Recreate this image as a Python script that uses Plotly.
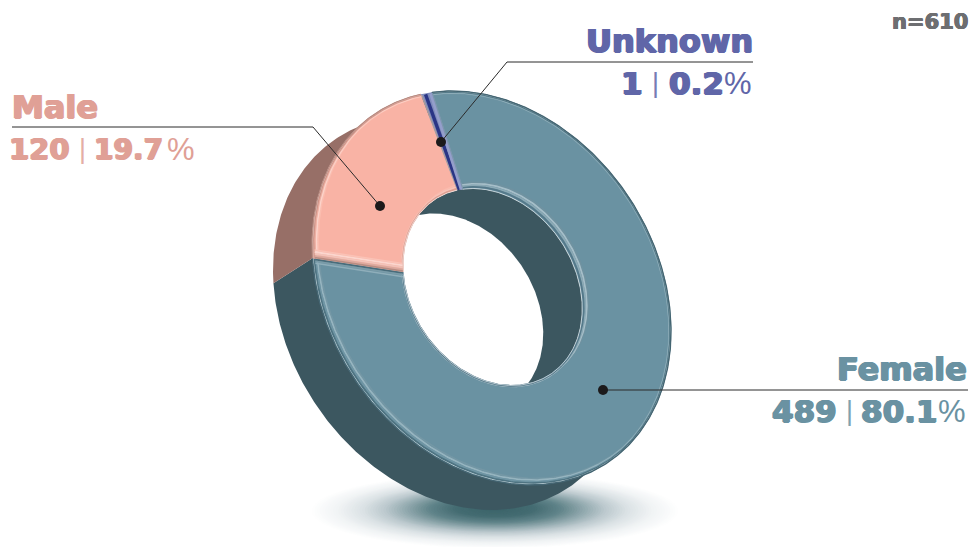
import math
import numpy as np
import plotly.graph_objects as go

# ---- data ----
labels = ["Male", "Unknown", "Female"]
counts = [120, 1, 489]
percent_text = ["19.7", "0.2", "80.1"]
sample_note = "n=610"

# ---- style ----
face = ["#F9B3A5", "#7F8BBB", "#6A92A2"]
wall = ["#976F67", "#3C5760", "#3C5760"]
text_col = ["#E0A096", "#6066A8", "#6A92A2"]
BOLD = "DejaVu Sans"
THIN = "Liberation Sans"
CX, CY, SX, SY, RHO = 491.5, 288.0, 179.5, 197.0, 0.22
EXT = (-39.0, 25.0)
HOLE = 0.50
HOLE_OFF = (1.0, -1.0)
START = 176.0
MIN_SWEEP = 3.8   # the very small slice is drawn visibly wide

total = sum(counts)
sweeps = [360 * c / total for c in counts]
sweeps[1] = max(sweeps[1], MIN_SWEEP)
sweeps[2] = 360 - sweeps[0] - sweeps[1]
edges = np.cumsum([START] + sweeps)
K = math.sqrt(1 - RHO ** 2)


def proj(u, v, shift=(0, 0)):
    u, v = np.asarray(u, float), np.asarray(v, float)
    return CX + SX * u + shift[0], CY + SY * (RHO * u + K * v) + shift[1]


def band_w(t_deg, peak, lo, hi):
    return lo + (hi - lo) * np.clip(np.cos(np.radians(t_deg - peak)), 0, 1)


def arc(r, a0, a1, shift=(0, 0), n=None):
    n = n or max(3, int(abs(a1 - a0) * 1.5))
    d = np.linspace(a0, a1, n)
    t = np.radians(d)
    rr = r(d) if callable(r) else r
    return proj(rr * np.cos(t), rr * np.sin(t), shift)


def radial(a, off, r0, r1):
    """segment parallel to the radius at angle a, from the hole rim to the outer rim"""
    t = math.radians(a)
    nx, ny = -math.sin(t), math.cos(t)
    fr = np.array([0.0, 1.0])
    ux, uy = r0 * math.cos(t) + off * nx, r0 * math.sin(t) + off * ny
    vx, vy = r1 * math.cos(t) + off * nx, r1 * math.sin(t) + off * ny
    x, y = proj(ux + (vx - ux) * fr, uy + (vy - uy) * fr)
    x = x + HOLE_OFF[0] * (1 - fr)
    y = y + HOLE_OFF[1] * (1 - fr)
    return x, y


fig = go.Figure()


def poly(x, y, color):
    fig.add_trace(go.Scatter(x=list(x), y=list(y), mode="lines", fill="toself", fillcolor=color,
                             line=dict(width=0, color=color), hoverinfo="skip", showlegend=False))


def line(x, y, color, width=1.0):
    fig.add_trace(go.Scatter(x=list(x), y=list(y), mode="lines", line=dict(width=width, color=color),
                             hoverinfo="skip", showlegend=False))


# ---- soft floor shadow: opaque rings, graded from white to dark teal ----
shade_s = [1.0, 0.85, 0.72, 0.60, 0.48, 0.36, 0.22, 0.0]
shade_c = [(255, 255, 255), (240, 243, 244), (219, 226, 229), (188, 201, 206), (143, 167, 172), (97, 132, 138),
           (68, 108, 114), (58, 98, 104)]
shapes = []
N = 70
for i in range(N):
    s = 1 - i / N
    rgb = [round(np.interp(s, shade_s[::-1], [c[k] for c in shade_c][::-1])) for k in range(3)]
    rx, ry, cy = 186 * s, 38 * s, 508 + 3 * s
    shapes.append(dict(type="circle", xref="x", yref="y", x0=495 - rx, x1=495 + rx, y0=cy - ry, y1=cy + ry,
                       fillcolor=f"rgb({rgb[0]},{rgb[1]},{rgb[2]})", line=dict(width=0), layer="below"))

# ---- extruded outer walls (Female first, Male over it) ----
for idx in [2, 0]:
    a0, a1 = edges[idx], edges[idx + 1]
    tx, ty = arc(1, a0, a1)
    bx, by = arc(1, a1, a0, EXT)
    poly(np.r_[tx, bx], np.r_[ty, by], wall[idx])

# ---- inner wall and see-through hole ----
ix, iy = arc(HOLE, 0, 360, HOLE_OFF, n=361)
poly(ix, iy, wall[2])


def inside(x, y, shift):
    u = (x - CX - shift[0]) / SX
    v = ((y - CY - shift[1]) / SY - RHO * u) / K
    return u * u + v * v <= HOLE * HOLE


low = (HOLE_OFF[0] + EXT[0], HOLE_OFF[1] + EXT[1])
sx_, sy_ = arc(HOLE, 0, 360, low, n=721)
tx_, ty_ = arc(HOLE, 0, 360, HOLE_OFF, n=721)
pts = [(x, y) for x, y in zip(tx_, ty_) if inside(x, y, low)]
pts += [(x, y) for x, y in zip(sx_, sy_) if inside(x, y, HOLE_OFF)]
mx, my = np.mean([p[0] for p in pts]), np.mean([p[1] for p in pts])
pts.sort(key=lambda p: math.atan2(p[1] - my, p[0] - mx))
poly([p[0] for p in pts], [p[1] for p in pts], "#FFFFFF")

# ---- top faces ----
for idx in [2, 0, 1]:
    a0, a1 = edges[idx], edges[idx + 1]
    ox, oy = arc(1, a0, a1)
    hx, hy = arc(HOLE, a1, a0, HOLE_OFF)
    poly(np.r_[ox, hx], np.r_[oy, hy], face[idx])

# ---- bevels: arcs whose inset varies round the ring ----
outer_stops = {
    2: [(0.95, "#7497A5", 1.6), (0.72, "#96B4BF", 1.8), (0.48, "#6F95A4", 1.8), (0.26, "#4F7482", 1.8),
        (0.10, "#C2D2D8", 0.9), (0.0, "#446572", 1.4)],
    0: [(0.95, "#FBBDAF", 1.6), (0.68, "#FCD3CA", 1.8), (0.42, "#EDB0A3", 1.8), (0.22, "#CF9589", 1.8),
        (0.08, "#E6CFC9", 0.9), (0.0, "#B78A80", 1.2)],
}
inner_stops = {
    2: [(1.0, "#7092A0", 1.6), (0.75, "#A6BEC8", 1.8), (0.5, "#8BA9B5", 1.8), (0.25, "#55798A", 1.8),
        (0.0, "#D5E0E4", 0.8)],
    0: [(1.0, "#FABBAE", 1.4), (0.6, "#F8C4B9", 1.8), (0.25, "#DE9F92", 1.8), (0.0, "#F1E3DF", 0.8)],
}
for idx in [2, 0]:
    a0, a1 = edges[idx], edges[idx + 1]
    for f, c, w in outer_stops[idx]:
        rfun = lambda d, f=f: 1 - f * band_w(d, 130, 0.012, 0.050)
        line(*arc(rfun, a0, a1), c, w)
    for f, c, w in inner_stops[idx]:
        rfun = lambda d, f=f: HOLE + f * band_w(d, -50, 0.006, 0.048)
        line(*arc(rfun, a0, a1, HOLE_OFF), c, w)

# radial bevel on Male's lower edge and Female's edge beside it
for off, c, w in [(0.044, "#FAC2B6", 1.6), (0.034, "#FBD6CE", 1.8), (0.024, "#F2C4BA", 1.8), (0.014, "#DDAA9F", 1.8),
                  (0.005, "#B88D83", 1.6)]:
    line(*radial(edges[0], off, HOLE, 0.985), c, w)
for off, c, w in [(-0.005, "#4A6C7A", 1.6), (-0.014, "#7A9BA8", 1.6), (-0.024, "#8FAEBA", 1.4)]:
    line(*radial(edges[0], off, HOLE, 0.985), c, w)

# the Unknown sliver: dark core, pale flank
mid = edges[1] + (edges[2] - edges[1]) * 0.40
line(*radial(edges[1], 0.003, HOLE, 0.995), "#A89A9C", 1.4)
line(*radial(mid, 0, HOLE, 0.995), "#2A3585", 3.4)
line(*radial(edges[2], -0.008, HOLE, 0.995), "#949ECB", 3.4)
line(*radial(edges[2], 0.001, HOLE, 0.995), "#7C96AC", 1.2)

# ---- leader lines ----
leaders = [
    ([12, 313, 380], [127, 127, 206]),
    ([753, 507, 441], [62, 62, 142]),
    ([968, 603], [390, 390]),
]
for x, y in leaders:
    line(x, y, "#2A2A2A", 1.0)
    fig.add_trace(go.Scatter(x=[x[-1]], y=[y[-1]], mode="markers", marker=dict(size=10, color="#1C1A1B"),
                             hoverinfo="skip", showlegend=False))


# ---- text ----
def heavy(color, a=0.9, b=0.5):
    return f"{a}px 0 0 {color}, -{a}px 0 0 {color}, 0 {b}px 0 {color}, 0 -{b}px 0 {color}"


def note(x, y, text, color, anchor, size=32, family=BOLD, shadow=None, opacity=1.0):
    font = dict(family=family, size=size, color=color)
    if shadow:
        font["shadow"] = shadow
    fig.add_annotation(x=x, y=y, xref="x", yref="y", text=text, showarrow=False, xanchor=anchor, yanchor="middle",
                       align=anchor, font=font, opacity=opacity)


# x of: label, count right edge, bar, percent right edge, % sign left edge
rows = [
    dict(lx=10, anc="left", ly=107, vy=149, csize=29, psize=28, count_r=72, bar=82, pct_r=165, sign=165),
    dict(lx=755, anc="right", ly=41, vy=83, csize=31, psize=31, count_r=645, bar=655, pct_r=726, sign=722),
    dict(lx=969, anc="right", ly=369, vy=411, csize=31, psize=31, count_r=839, bar=849, pct_r=940, sign=936),
]
for i, r in enumerate(rows):
    col = text_col[i]
    note(r["lx"], r["ly"], f"<b>{labels[i]}</b>", col, r["anc"], 32, BOLD, heavy(col))
    note(r["count_r"], r["vy"], f"<b>{counts[i]}</b>", col, "right", r["csize"], BOLD, heavy(col))
    note(r["bar"], r["vy"], "|", col, "center", 27, THIN, None, 0.85)
    note(r["pct_r"], r["vy"], f"<b>{percent_text[i]}</b>", col, "right", r["psize"], BOLD, heavy(col))
    note(r["sign"], r["vy"], "%", col, "left", 31, THIN)
note(970, 22, f"<b>{sample_note}</b>", "#6D6E71", "right", 21, BOLD, heavy("#6D6E71", 0.6, 0.3))

fig.update_layout(
    width=978, height=547, margin=dict(l=0, r=0, t=0, b=0), autosize=False,
    paper_bgcolor="white", plot_bgcolor="white", shapes=shapes, showlegend=False,
    xaxis=dict(range=[0, 978], visible=False, fixedrange=True),
    yaxis=dict(range=[547, 0], visible=False, fixedrange=True),
)
fig.write_html("out.html", config={"displayModeBar": False},
               post_script="document.body.style.margin='0';")
